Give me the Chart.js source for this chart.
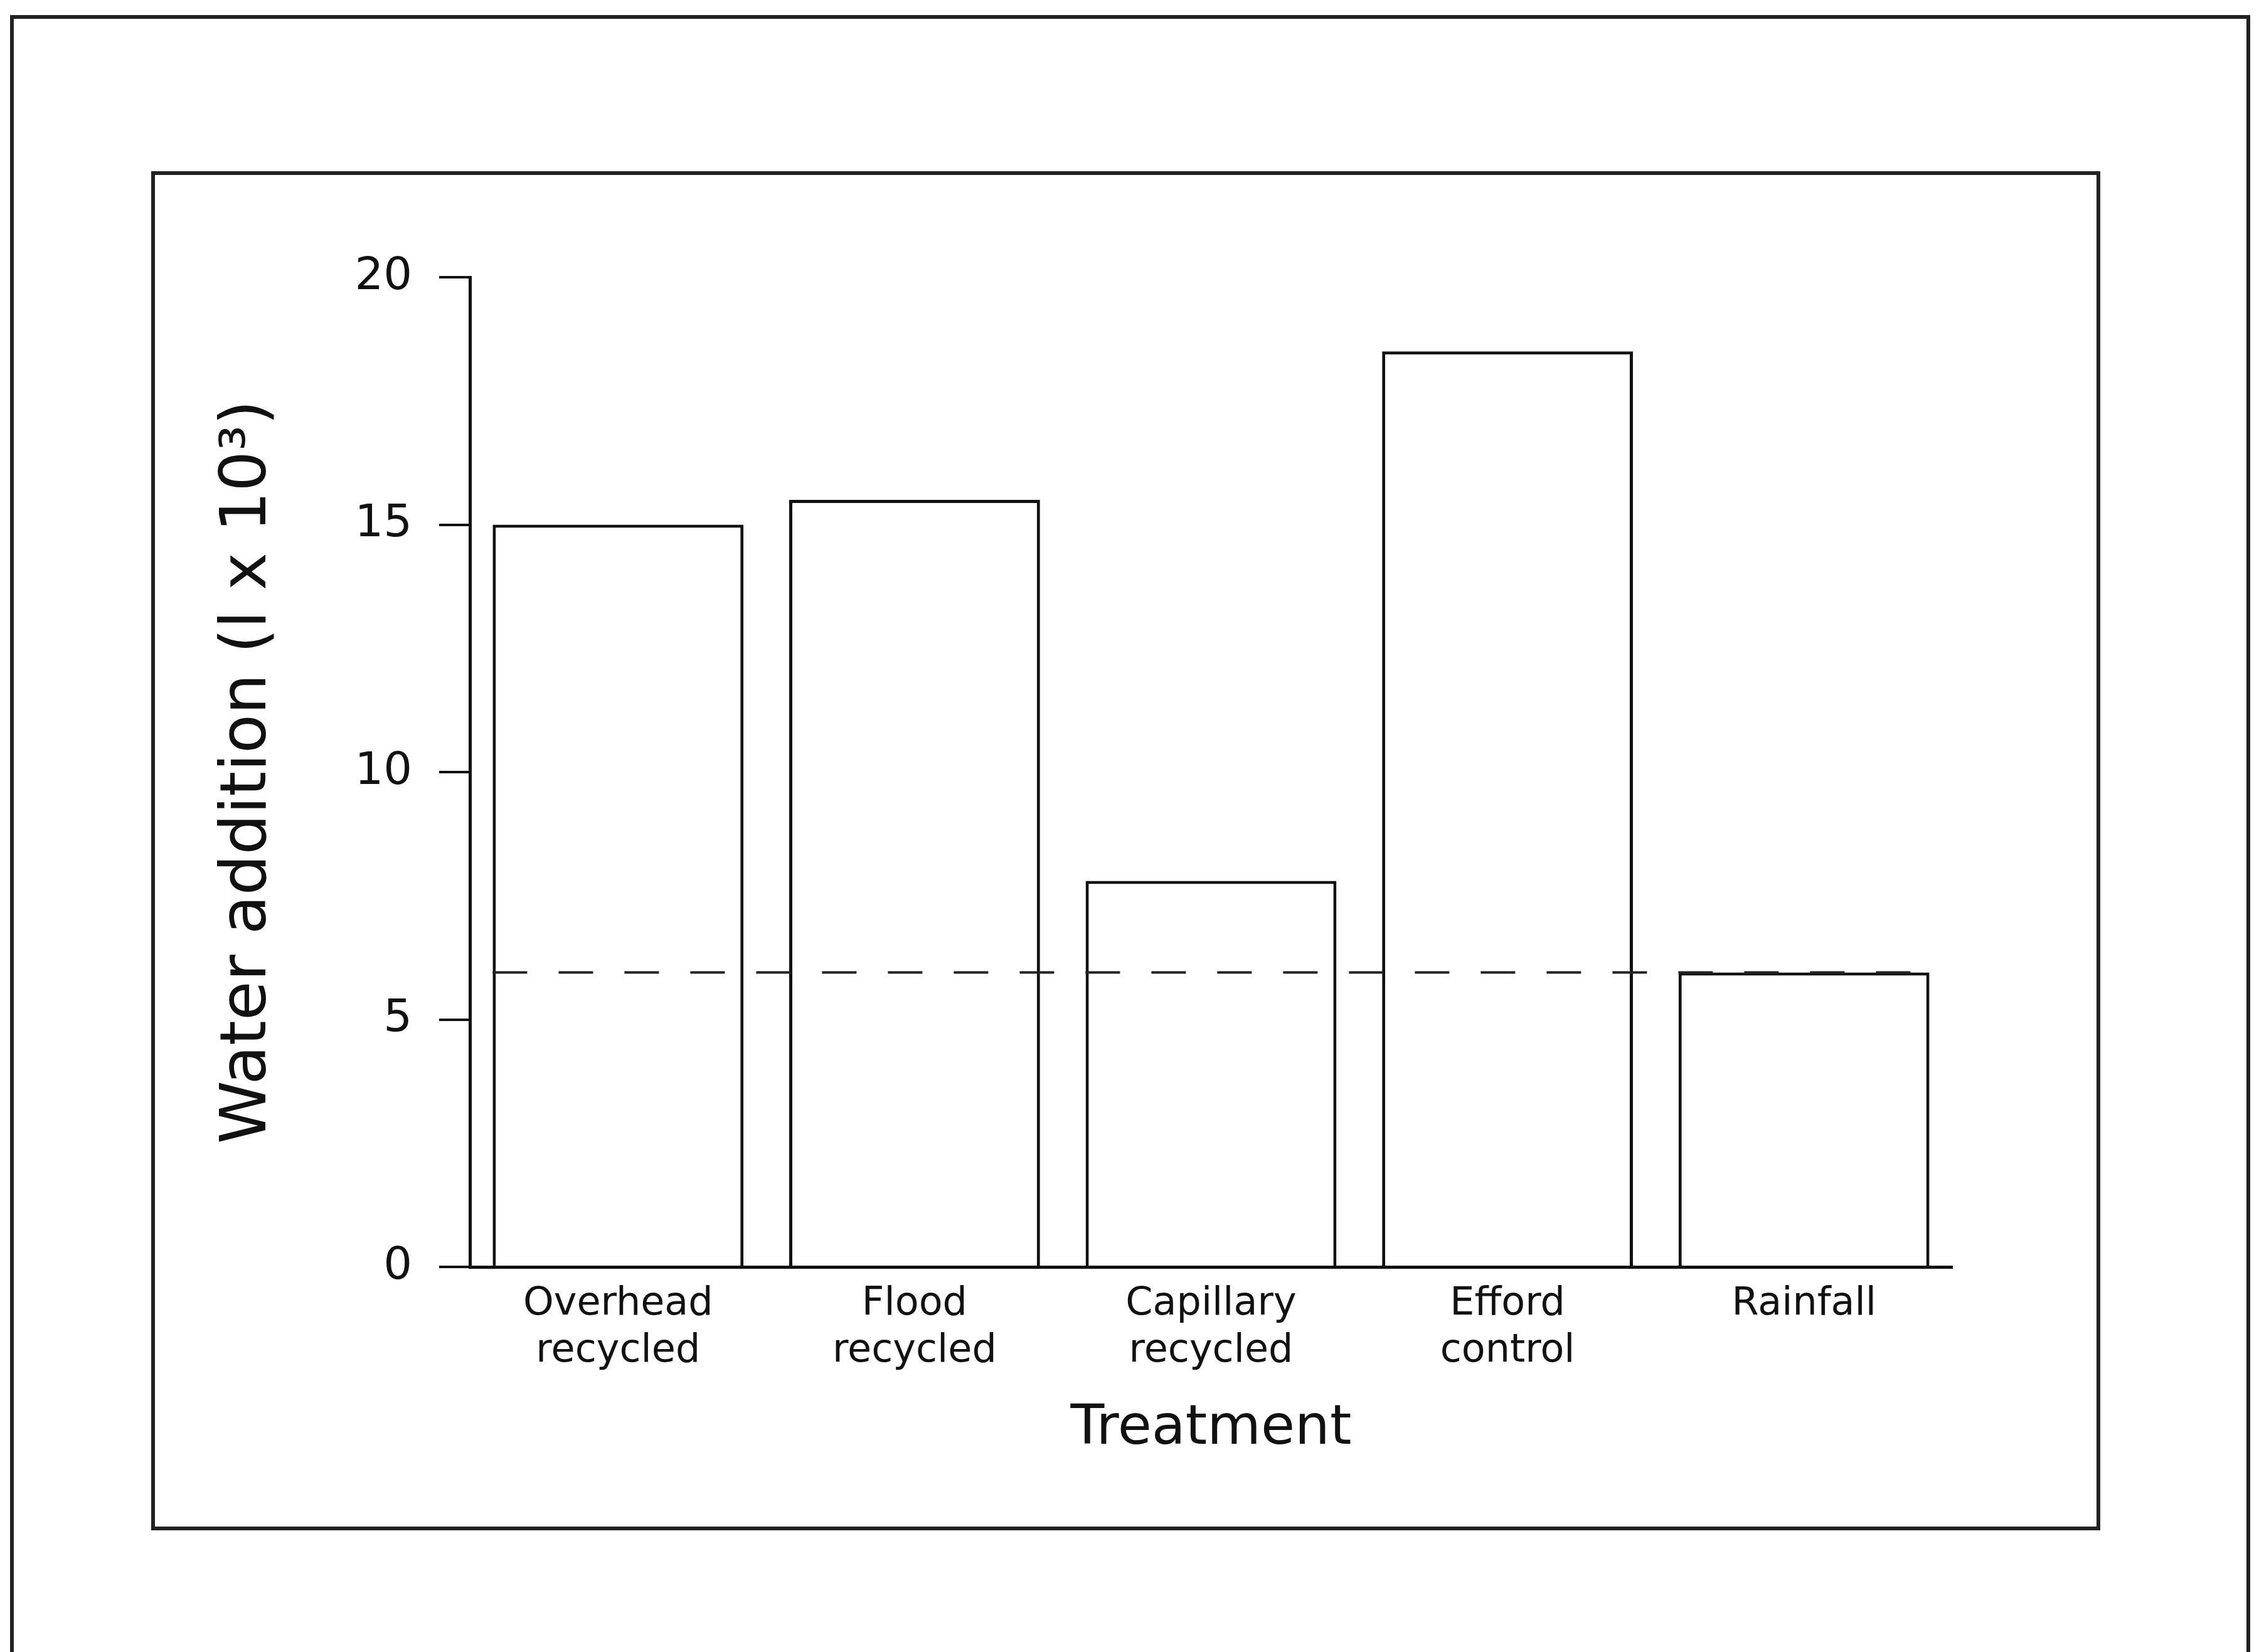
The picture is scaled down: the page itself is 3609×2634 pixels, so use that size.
<!DOCTYPE html>
<html lang="en">
<head>
  <meta charset="UTF-8" />
  <title>Water addition by treatment</title>
  <script src="https://cdn.jsdelivr.net/npm/chart.js"></script>
  <style>
    body {
      margin: 0;
      background: white;
      font-family: "DejaVu Sans", sans-serif;
    }
    .marco {
      position: absolute;
      box-sizing: border-box;
      border: 6px solid #222;
    }
    #exterior {
      left: 16px;
      top: 24px;
      width: 3571px;
      height: 2700px;
      border-bottom: none;
    }
    #interior {
      left: 241px;
      top: 273px;
      width: 3107px;
      height: 2167px;
    }
    canvas {
      position: absolute;
      left: 0;
      top: 0;
    }
  </style>
</head>
<body>
  <div class="marco" id="exterior"></div>
  <div class="marco" id="interior"></div>
  <canvas id="grafico" width="3609" height="2634"></canvas>

  <script>
    const treatments = [
      ["Overhead", "recycled"],
      ["Flood", "recycled"],
      ["Capillary", "recycled"],
      ["Efford", "control"],
      ["Rainfall"]
    ];
    const waterAddition = [15.0, 15.5, 7.8, 18.5, 5.95];
    const rainfallLevel = 5.95; // dashed reference line
    const yTicks = [0, 5, 10, 15, 20];

    const font = "'DejaVu Sans', sans-serif";

    // dashed line across all bars at the rainfall level
    const lineaRef = {
      id: 'lineaRef',
      afterDatasetsDraw(chart) {
        const bars = chart.getDatasetMeta(0).data;
        const first = bars[0], last = bars[bars.length - 1];
        const x1 = first.x - first.width / 2;
        const x2 = last.x + last.width / 2;
        const y = chart.scales.y.getPixelForValue(rainfallLevel);
        const ctx = chart.ctx;
        ctx.save();
        ctx.strokeStyle = '#222';
        ctx.lineWidth = 4;
        ctx.setLineDash([55, 50]);
        ctx.beginPath();
        ctx.moveTo(x1, y);
        ctx.lineTo(x2, y);
        ctx.stroke();
        ctx.restore();
      }
    };

    new Chart(document.getElementById('grafico'), {
      type: 'bar',
      data: {
        labels: treatments,
        datasets: [{
          data: waterAddition,
          backgroundColor: 'white',
          borderColor: '#111',
          borderWidth: 5,
          borderSkipped: 'bottom',
          barPercentage: 0.846,
          categoryPercentage: 1.0
        }]
      },
      options: {
        responsive: false,
        devicePixelRatio: 1,
        animation: false,
        layout: {
          padding: { left: 300, top: 442, right: 497, bottom: 284 }
        },
        plugins: {
          legend: { display: false },
          tooltip: { enabled: false }
        },
        scales: {
          x: {
            afterFit: s => { s.height = 330; },
            grid: { display: false },
            border: { display: true, color: '#111', width: 5 },
            ticks: {
              color: '#111',
              padding: 15,
              font: { family: font, size: 62, lineHeight: 1.2 }
            },
            title: {
              display: true,
              text: 'Treatment',
              color: '#111',
              padding: { top: 0, bottom: 18 },
              font: { family: font, size: 88, lineHeight: 1.2 }
            }
          },
          y: {
            min: 0,
            max: 20,
            afterFit: s => { s.width = 449; },
            afterBuildTicks: s => { s.ticks = yTicks.map(v => ({ value: v })); },
            grid: {
              drawOnChartArea: false,
              drawTicks: true,
              tickLength: 49,
              color: '#111',
              lineWidth: 4
            },
            border: { display: true, color: '#111', width: 5 },
            ticks: {
              color: '#111',
              padding: 43,
              font: { family: font, size: 72 }
            },
            title: {
              display: true,
              text: 'Water addition (l x 10³)',
              color: '#111',
              padding: { top: 35, bottom: 0 },
              font: { family: font, size: 102, lineHeight: 1.2 }
            }
          }
        }
      },
      plugins: [lineaRef]
    });
  </script>
</body>
</html>
